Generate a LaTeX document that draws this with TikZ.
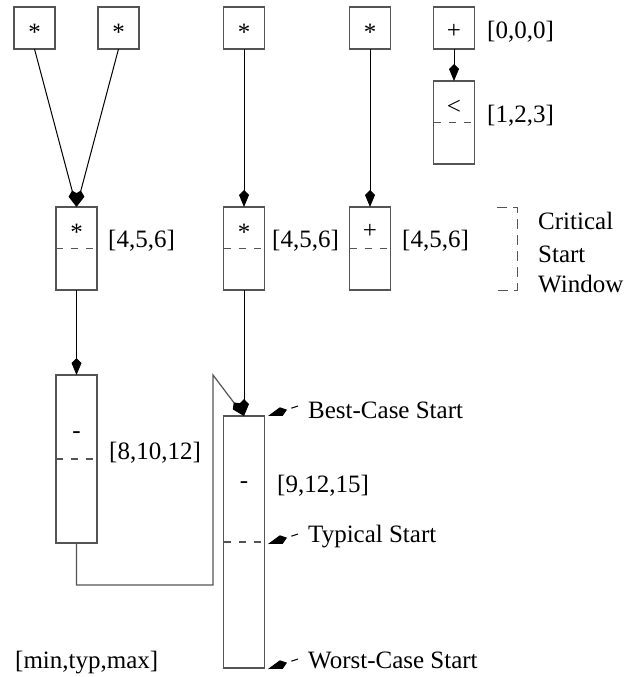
\documentclass[tikz,border=0pt]{standalone}
\usepackage{fontspec}
\setmainfont{Liberation Serif}
\usetikzlibrary{arrows.meta}
\definecolor{boxgray}{gray}{0.33}
\begin{document}
\begin{tikzpicture}[x=1pt,y=-1pt,
  box/.style={draw=boxgray, line width=1.2pt, minimum width=41pt, inner sep=0pt, outer sep=0pt},
  sq/.style={box, minimum height=42pt},
  mid/.style={box, minimum height=83pt},
  txt/.style={font=\fontsize{25pt}{30pt}\selectfont, inner sep=0pt, anchor=base},
  lbl/.style={txt, anchor=base west},
  tipk/.style={-{Kite[length=17pt,width=10pt,inset=5pt,color=black]}},
  conn/.style={draw=black, line width=1pt, tipk},
  gconn/.style={draw=boxgray, line width=1.2pt, tipk},
  inner/.style={draw=boxgray, line width=1.3pt, dash pattern=on 7pt off 8pt},
  brk/.style={draw=boxgray, line width=1pt, dash pattern=on 10pt off 6pt},
  lblarr/.style={draw=black, line width=1pt, dash pattern=on 7pt off 40pt,
    -{Kite[length=20pt,width=9pt,inset=6pt]}}
]
\useasboundingbox (0,0) rectangle (625,677);

% top row
\node[sq] (t1) at (34.5,28) {};
\node[sq] (t2) at (118.5,28) {};
\node[sq] (t3) at (244,28) {};
\node[sq] (t4) at (370,28) {};
\node[sq] (t5) at (454,28) {};
\node[txt] (t1s) at (34.5,41) {*};
\node[txt] (t2s) at (118.5,41) {*};
\node[txt] (t3s) at (244,41) {*};
\node[txt] (t4s) at (370,41) {*};
\node[txt] (t5s) at (454,38) {+};
\node[lbl] (t5l) at (487,38) {[0,0,0]};

% < box
\node[mid] (lt) at (454,122.5) {};
\draw[inner] (lt.west) -- (lt.east);
\node[txt] (lts) at (454,114) {<};
\node[lbl] (ltl) at (487,122) {[1,2,3]};

% row 2
\node[mid] (a) at (76.5,248.5) {};
\node[mid] (b) at (244,248.5) {};
\node[mid] (c) at (370,248.5) {};
\draw[inner] (a.west) -- (a.east);
\draw[inner] (b.west) -- (b.east);
\draw[inner] (c.west) -- (c.east);
\node[txt] (as) at (76.5,240) {*};
\node[txt] (bs) at (244,240) {*};
\node[txt] (cs) at (370,238) {+};
\node[lbl] (al) at (108,247) {[4,5,6]};
\node[lbl] (bl) at (272,247) {[4,5,6]};
\node[lbl] (cl) at (402,247) {[4,5,6]};

% critical start window
\coordinate (w1) at (497,207);
\coordinate (w2) at (517,207);
\coordinate (w3) at (517,290);
\coordinate (w4) at (497,290);
\draw[brk] (w1) -- (w2) -- (w3) -- (w4);
\node[lbl] (cw1) at (538,229.5) {Critical};
\node[lbl] (cw2) at (538,262) {Start};
\node[lbl] (cw3) at (538,292) {Window};

% d box
\node[box, minimum height=168pt] (d) at (76.5,459) {};
\draw[inner] (d.west) -- (d.east);
\node[txt] (ds) at (76.5,438) {-};
\node[lbl] (dl) at (109,459) {[8,10,12]};

% e big box
\node[box, minimum height=252pt] (e) at (244,542) {};
\draw[inner] (e.west) -- (e.east);
\node[txt] (es) at (244,488) {-};
\node[lbl] (el) at (277,492) {[9,12,15]};

% arrows
\draw[conn] (t1.south) -- (a.north);
\draw[conn] (t2.south) -- (a.north);
\draw[conn] (t3.south) -- (b.north);
\draw[conn] (t4.south) -- (c.north);
\draw[conn] (t5.south) -- (lt.north);
\draw[conn] (a.south) -- (d.north);
\draw[conn] (b.south) -- (e.north);
\coordinate (k1) at (213,585);
\coordinate (k2) at (213,375);
\draw[gconn] (d.south) |- (k1) -- (k2) -- (e.north);

% start labels
\node[lbl] (best) at (308,418) {Best-Case Start};
\node[lbl] (typ) at (308,542) {Typical Start};
\node[lbl] (worst) at (308,668) {Worst-Case Start};
\coordinate (bsa) at (298,406);
\coordinate (tsa) at (298,534);
\coordinate (wsa) at (298,659);
\coordinate (bst) at (268,416);
\coordinate (tst) at (268,544);
\coordinate (wst) at (268,669);
\draw[lblarr] (bsa) -- (bst);
\draw[lblarr] (tsa) -- (tst);
\draw[lblarr] (wsa) -- (wst);

\node[lbl] (legend) at (15,668) {[min,typ,max]};
\end{tikzpicture}
\end{document}
